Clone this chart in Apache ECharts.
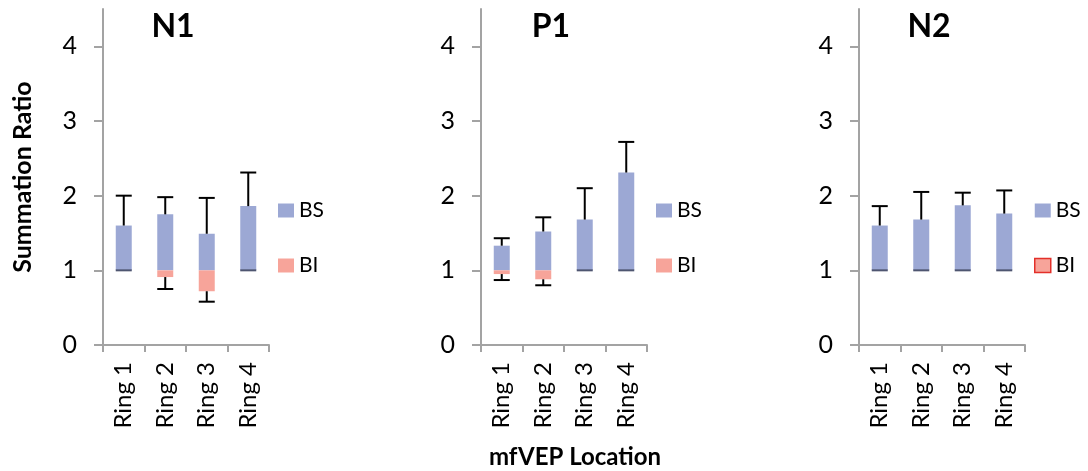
<!DOCTYPE html>
<html>
<head>
<meta charset="utf-8">
<script src="https://cdn.jsdelivr.net/npm/echarts@6/dist/echarts.min.js"></script>
<style>
  html, body { margin: 0; padding: 0; background: #fff; }
  #chart { width: 1088px; height: 471px; }
</style>
</head>
<body>
<div id="chart"></div>
<script>
// Ring categories and tick values shared by the three panels
const categories = ['Ring 1', 'Ring 2', 'Ring 3', 'Ring 4'];
const yTicks = [0, 1, 2, 3, 4];
const panelNames = ['N1', 'P1', 'N2'];

// Summation ratio above baseline (BS) with the upper end of its error bar
const bsN1 = [1.60, 1.75, 1.49, 1.86];
const bsN1Upper = [2.00, 1.98, 1.97, 2.31];
const bsP1 = [1.33, 1.52, 1.68, 2.31];
const bsP1Upper = [1.43, 1.71, 2.10, 2.72];
const bsN2 = [1.60, 1.68, 1.87, 1.76];
const bsN2Upper = [1.86, 2.05, 2.04, 2.07];

// Summation ratio below baseline (BI) with the lower end of its error bar
const biN1 = [1.00, 0.91, 0.72, 1.00];
const biN1Lower = [null, 0.75, 0.58, null];
const biP1 = [0.95, 0.88, 1.00, 1.00];
const biP1Lower = [0.87, 0.80, null, null];
const biN2 = [1.00, 1.00, 1.00, 1.00];
const biN2Lower = [null, null, null, null];

const BASE = 1;
const FONT = 'Lato, "Open Sans", sans-serif';
const BS_COLOR = '#9ca8d4';
const BI_COLOR = '#f7a49a';
const AXIS_COLOR = '#a3a3a3';

const panelLeft = [103, 481, 859];
const plotWidth = 166;

function rows(values, ends) {
  return values.map((v, i) => [i, v, ends[i] == null ? '-' : ends[i]]);
}

// Floating bar drawn from the baseline of 1, with a one-sided error bar
function renderFloating(kind) {
  return function (params, api) {
    const i = api.value(0);
    const v = api.value(1);
    const e = api.value(2);
    const barW = 16;
    const base = api.coord([i, BASE]);
    const tip = api.coord([i, v]);
    const x0 = base[0] - barW / 2;
    const children = [];
    if (Math.abs(v - BASE) > 1e-9) {
      children.push({
        type: 'rect',
        shape: { x: x0, y: Math.min(base[1], tip[1]), width: barW, height: Math.abs(tip[1] - base[1]) },
        style: { fill: api.visual('color') }
      });
    } else if (kind === 'BI') {
      // no deficit: the flat bar shows only as a dark edge on the baseline
      children.push({
        type: 'rect',
        shape: { x: x0, y: base[1] - 1, width: barW, height: 2 },
        style: { fill: '#4e5570' }
      });
    }
    if (!isNaN(e)) {
      const ep = api.coord([i, e]);
      children.push({
        type: 'line',
        shape: { x1: base[0], y1: tip[1], x2: base[0], y2: ep[1] },
        style: { stroke: '#000', lineWidth: 2 }
      });
      children.push({
        type: 'line',
        shape: { x1: x0, y1: ep[1], x2: x0 + barW, y2: ep[1] },
        style: { stroke: '#000', lineWidth: 2 }
      });
    }
    return { type: 'group', children: children };
  };
}

const bsSets = [[bsN1, bsN1Upper], [bsP1, bsP1Upper], [bsN2, bsN2Upper]];
const biSets = [[biN1, biN1Lower], [biP1, biP1Lower], [biN2, biN2Lower]];

const grid = [], xAxis = [], yAxis = [], series = [], legend = [], graphic = [];

panelLeft.forEach((left, p) => {
  grid.push({ left: left, top: 9, width: plotWidth, height: 336 });
  xAxis.push({
    type: 'category',
    gridIndex: p,
    data: categories,
    boundaryGap: true,
    axisLine: { lineStyle: { color: AXIS_COLOR, width: 2 } },
    axisTick: { show: true, length: 7, interval: 0, lineStyle: { color: AXIS_COLOR, width: 2 } },
    axisLabel: { rotate: 90, interval: 0, margin: 17, fontSize: 24, color: '#000', fontFamily: FONT }
  });
  yAxis.push({
    type: 'value',
    gridIndex: p,
    min: 0,
    max: 4.5,
    interval: 0.5,
    name: p === 0 ? 'Summation Ratio' : '',
    nameLocation: 'middle',
    nameGap: 68,
    nameTextStyle: { fontSize: 25, fontWeight: 'bold', color: '#000', fontFamily: FONT },
    splitLine: { show: false },
    axisLine: { show: true, lineStyle: { color: AXIS_COLOR, width: 2 } },
    axisTick: { show: true, length: 9, customValues: yTicks, lineStyle: { color: AXIS_COLOR, width: 2 } },
    axisLabel: { customValues: yTicks, margin: 26, fontSize: 25, color: '#000', fontFamily: FONT }
  });
  series.push({
    name: 'BS',
    type: 'custom',
    xAxisIndex: p,
    yAxisIndex: p,
    itemStyle: { color: BS_COLOR },
    encode: { x: 0, y: [1, 2] },
    data: rows(bsSets[p][0], bsSets[p][1]),
    renderItem: renderFloating('BS')
  });
  series.push({
    name: 'BI',
    type: 'custom',
    xAxisIndex: p,
    yAxisIndex: p,
    itemStyle: { color: BI_COLOR },
    encode: { x: 0, y: [1, 2] },
    data: rows(biSets[p][0], biSets[p][1]),
    renderItem: renderFloating('BI')
  });
  const biLegend = p === 2
    ? { name: 'BI', itemStyle: { color: BI_COLOR, borderColor: '#e3302a', borderWidth: 1.5 } }
    : { name: 'BI' };
  legend.push({
    orient: 'vertical',
    left: left + plotWidth + 9,
    top: 200,
    padding: 0,
    icon: 'rect',
    itemWidth: 16,
    itemHeight: 14,
    itemGap: 34,
    selectedMode: false,
    textStyle: { fontSize: 21, lineHeight: 20, color: '#000', fontFamily: FONT },
    data: [{ name: 'BS' }, biLegend]
  });
  graphic.push({
    type: 'text',
    x: left + 70,
    y: 27,
    style: {
      text: panelNames[p],
      font: 'bold 32px ' + FONT,
      fill: '#000',
      textAlign: 'center',
      textVerticalAlign: 'middle'
    }
  });
});

graphic.push({
  type: 'text',
  x: 575,
  y: 457,
  style: {
    text: 'mfVEP Location',
    font: 'bold 24px ' + FONT,
    fill: '#000',
    textAlign: 'center',
    textVerticalAlign: 'middle'
  }
});

const chart = echarts.init(document.getElementById('chart'), null, { renderer: 'canvas' });
chart.setOption({
  backgroundColor: '#fff',
  animation: false,
  grid: grid,
  xAxis: xAxis,
  yAxis: yAxis,
  legend: legend,
  graphic: graphic,
  series: series
});
</script>
</body>
</html>
